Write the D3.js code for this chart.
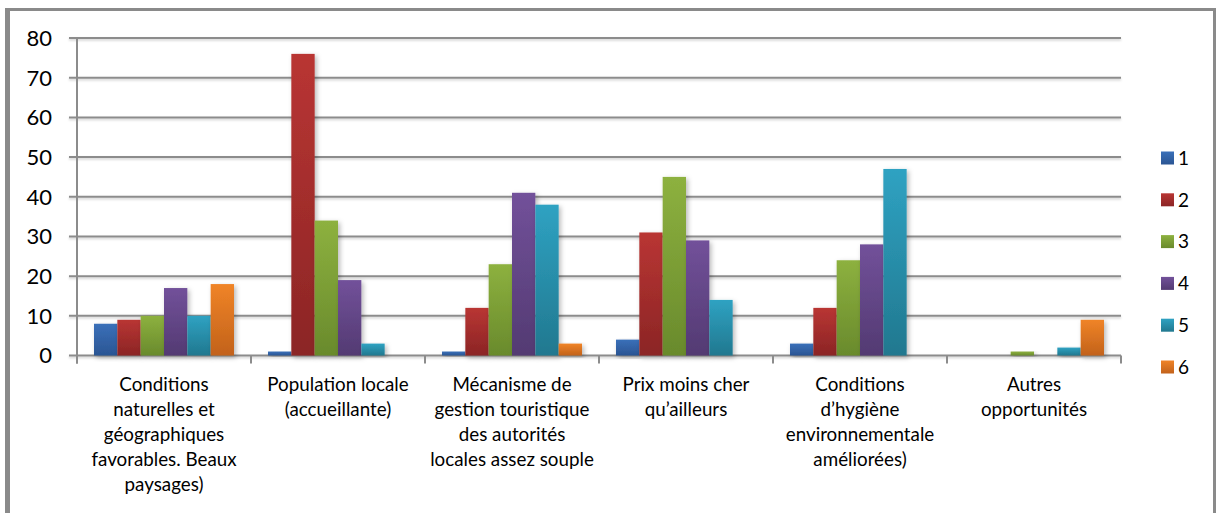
<!DOCTYPE html>
<html><head><meta charset="utf-8">
<script src="https://cdn.jsdelivr.net/npm/d3@7"></script>
<style>
html,body{margin:0;padding:0;background:#fff;}
svg{display:block;}
text{font-family:Lato,"Open Sans",sans-serif;fill:#000;}
</style></head>
<body>
<svg id="chart" width="1217" height="513"></svg>
<script>
const categoryLines = [
  ["Conditions","naturelles et","géographiques","favorables. Beaux","paysages)"],
  ["Population locale","(accueillante)"],
  ["Mécanisme de","gestion touristique","des autorités","locales assez souple"],
  ["Prix moins cher","qu’ailleurs"],
  ["Conditions","d’hygiène","environnementale","améliorées)"],
  ["Autres","opportunités"]
];
const categories = categoryLines.map(l => l.join(" "));
const seriesNames = ["1","2","3","4","5","6"];
const series1 = [8, 1, 1, 4, 3, 0];
const series2 = [9, 76, 12, 31, 12, 0];
const series3 = [10, 34, 23, 45, 24, 1];
const series4 = [17, 19, 41, 29, 28, 0];
const series5 = [10, 3, 38, 14, 47, 2];
const series6 = [18, 0, 3, 0, 0, 9];
const yTicks = [0,10,20,30,40,50,60,70,80];

const allSeries = [series1,series2,series3,series4,series5,series6];
const colorsTop = ["#3a70b9","#b93533","#8db13f","#72519a","#2fa2c2","#f08427"];
const colorsBot = ["#2b5593","#8b2525","#698a2c","#533a72","#21788f","#c2621b"];

const svg = d3.select("#chart");
const defs = svg.append("defs");
seriesNames.forEach((s,i) => {
  const g = defs.append("linearGradient").attr("id","g"+i).attr("x1",0).attr("y1",0).attr("x2",0).attr("y2",1);
  g.append("stop").attr("offset","0%").attr("stop-color",colorsTop[i]);
  g.append("stop").attr("offset","100%").attr("stop-color",colorsBot[i]);
});
const f = defs.append("filter").attr("id","shadow").attr("x","-30%").attr("y","-10%").attr("width","160%").attr("height","130%");
f.append("feDropShadow").attr("dx",2).attr("dy",2).attr("stdDeviation",2.5).attr("flood-color","#000").attr("flood-opacity",0.28);
const fl = defs.append("filter").attr("id","lshadow").attr("x","-5%").attr("y","-200%").attr("width","110%").attr("height","500%");
fl.append("feDropShadow").attr("dx",0).attr("dy",1.5).attr("stdDeviation",0.8).attr("flood-color","#000").attr("flood-opacity",0.2);

// frame
svg.append("rect").attr("x",5).attr("y",8).attr("width",5).attr("height",520).attr("fill","#8a8a8a");
svg.append("rect").attr("x",5).attr("y",8).attr("width",1211).attr("height",3).attr("fill","#8a8a8a");
svg.append("rect").attr("x",1213).attr("y",8).attr("width",3).attr("height",520).attr("fill","#8a8a8a");

const pLeft = 77, pRight = 1121, pTop = 38, pBottom = 355.5;
const x0 = d3.scaleBand().domain(categories).range([pLeft,pRight]).paddingInner(0).paddingOuter(0);
const x1 = d3.scaleBand().domain(seriesNames).range([17, x0.bandwidth()-17]).padding(0);
const y = d3.scaleLinear().domain([0,80]).range([pBottom, pTop]);

// gridlines
const grid = svg.append("g").attr("filter","url(#lshadow)");
grid.selectAll("line").data(yTicks).join("line")
  .attr("x1",69).attr("x2",pRight)
  .attr("y1",d=>y(d)).attr("y2",d=>y(d))
  .attr("stroke","#8c8c8c").attr("stroke-width",2);

// y axis line
svg.append("line").attr("x1",pLeft).attr("x2",pLeft).attr("y1",pTop).attr("y2",pBottom+8)
  .attr("stroke","#8c8c8c").attr("stroke-width",2);

// category ticks
svg.append("g").selectAll("line").data(d3.range(categories.length+1)).join("line")
  .attr("x1",i=>pLeft+i*x0.bandwidth()).attr("x2",i=>pLeft+i*x0.bandwidth())
  .attr("y1",pBottom).attr("y2",pBottom+8)
  .attr("stroke","#8c8c8c").attr("stroke-width",2);

// y labels
svg.append("g").selectAll("text").data(yTicks).join("text")
  .attr("x",52).attr("y",d=>y(d)).attr("dy","0.36em")
  .attr("text-anchor","end").attr("font-size",22).text(d=>d);

// bars
const groups = svg.append("g").selectAll("g").data(categories).join("g")
  .attr("transform",c=>`translate(${x0(c)},0)`);
groups.selectAll("rect").data((c,ci)=>seriesNames.map((s,si)=>({s,si,v:allSeries[si][ci]})))
  .join("rect")
  .filter(d=>d.v>0)
  .attr("x",d=>x1(d.s)).attr("width",x1.bandwidth())
  .attr("y",d=>y(d.v)).attr("height",d=>pBottom-y(d.v))
  .attr("fill",d=>`url(#g${d.si})`)
  .attr("filter","url(#shadow)");

// category labels
const lab = svg.append("g").selectAll("text").data(categoryLines).join("text")
  .attr("text-anchor","middle").attr("font-size",18.8)
  .attr("transform",(l,i)=>`translate(${x0(categories[i])+x0.bandwidth()/2},391)`);
lab.selectAll("tspan").data(l=>l).join("tspan")
  .attr("x",0).attr("y",(d,i)=>i*25).text(d=>d);

// legend
const lg = svg.append("g").selectAll("g").data(seriesNames).join("g")
  .attr("transform",(d,i)=>`translate(1161,${158+i*41.8})`);
lg.append("rect").attr("x",0).attr("y",-6.5).attr("width",13).attr("height",13)
  .attr("fill",(d,i)=>`url(#g${i})`);
lg.append("text").attr("x",17).attr("y",0).attr("dy","0.36em").attr("font-size",19).text(d=>d);
</script>
</body></html>
